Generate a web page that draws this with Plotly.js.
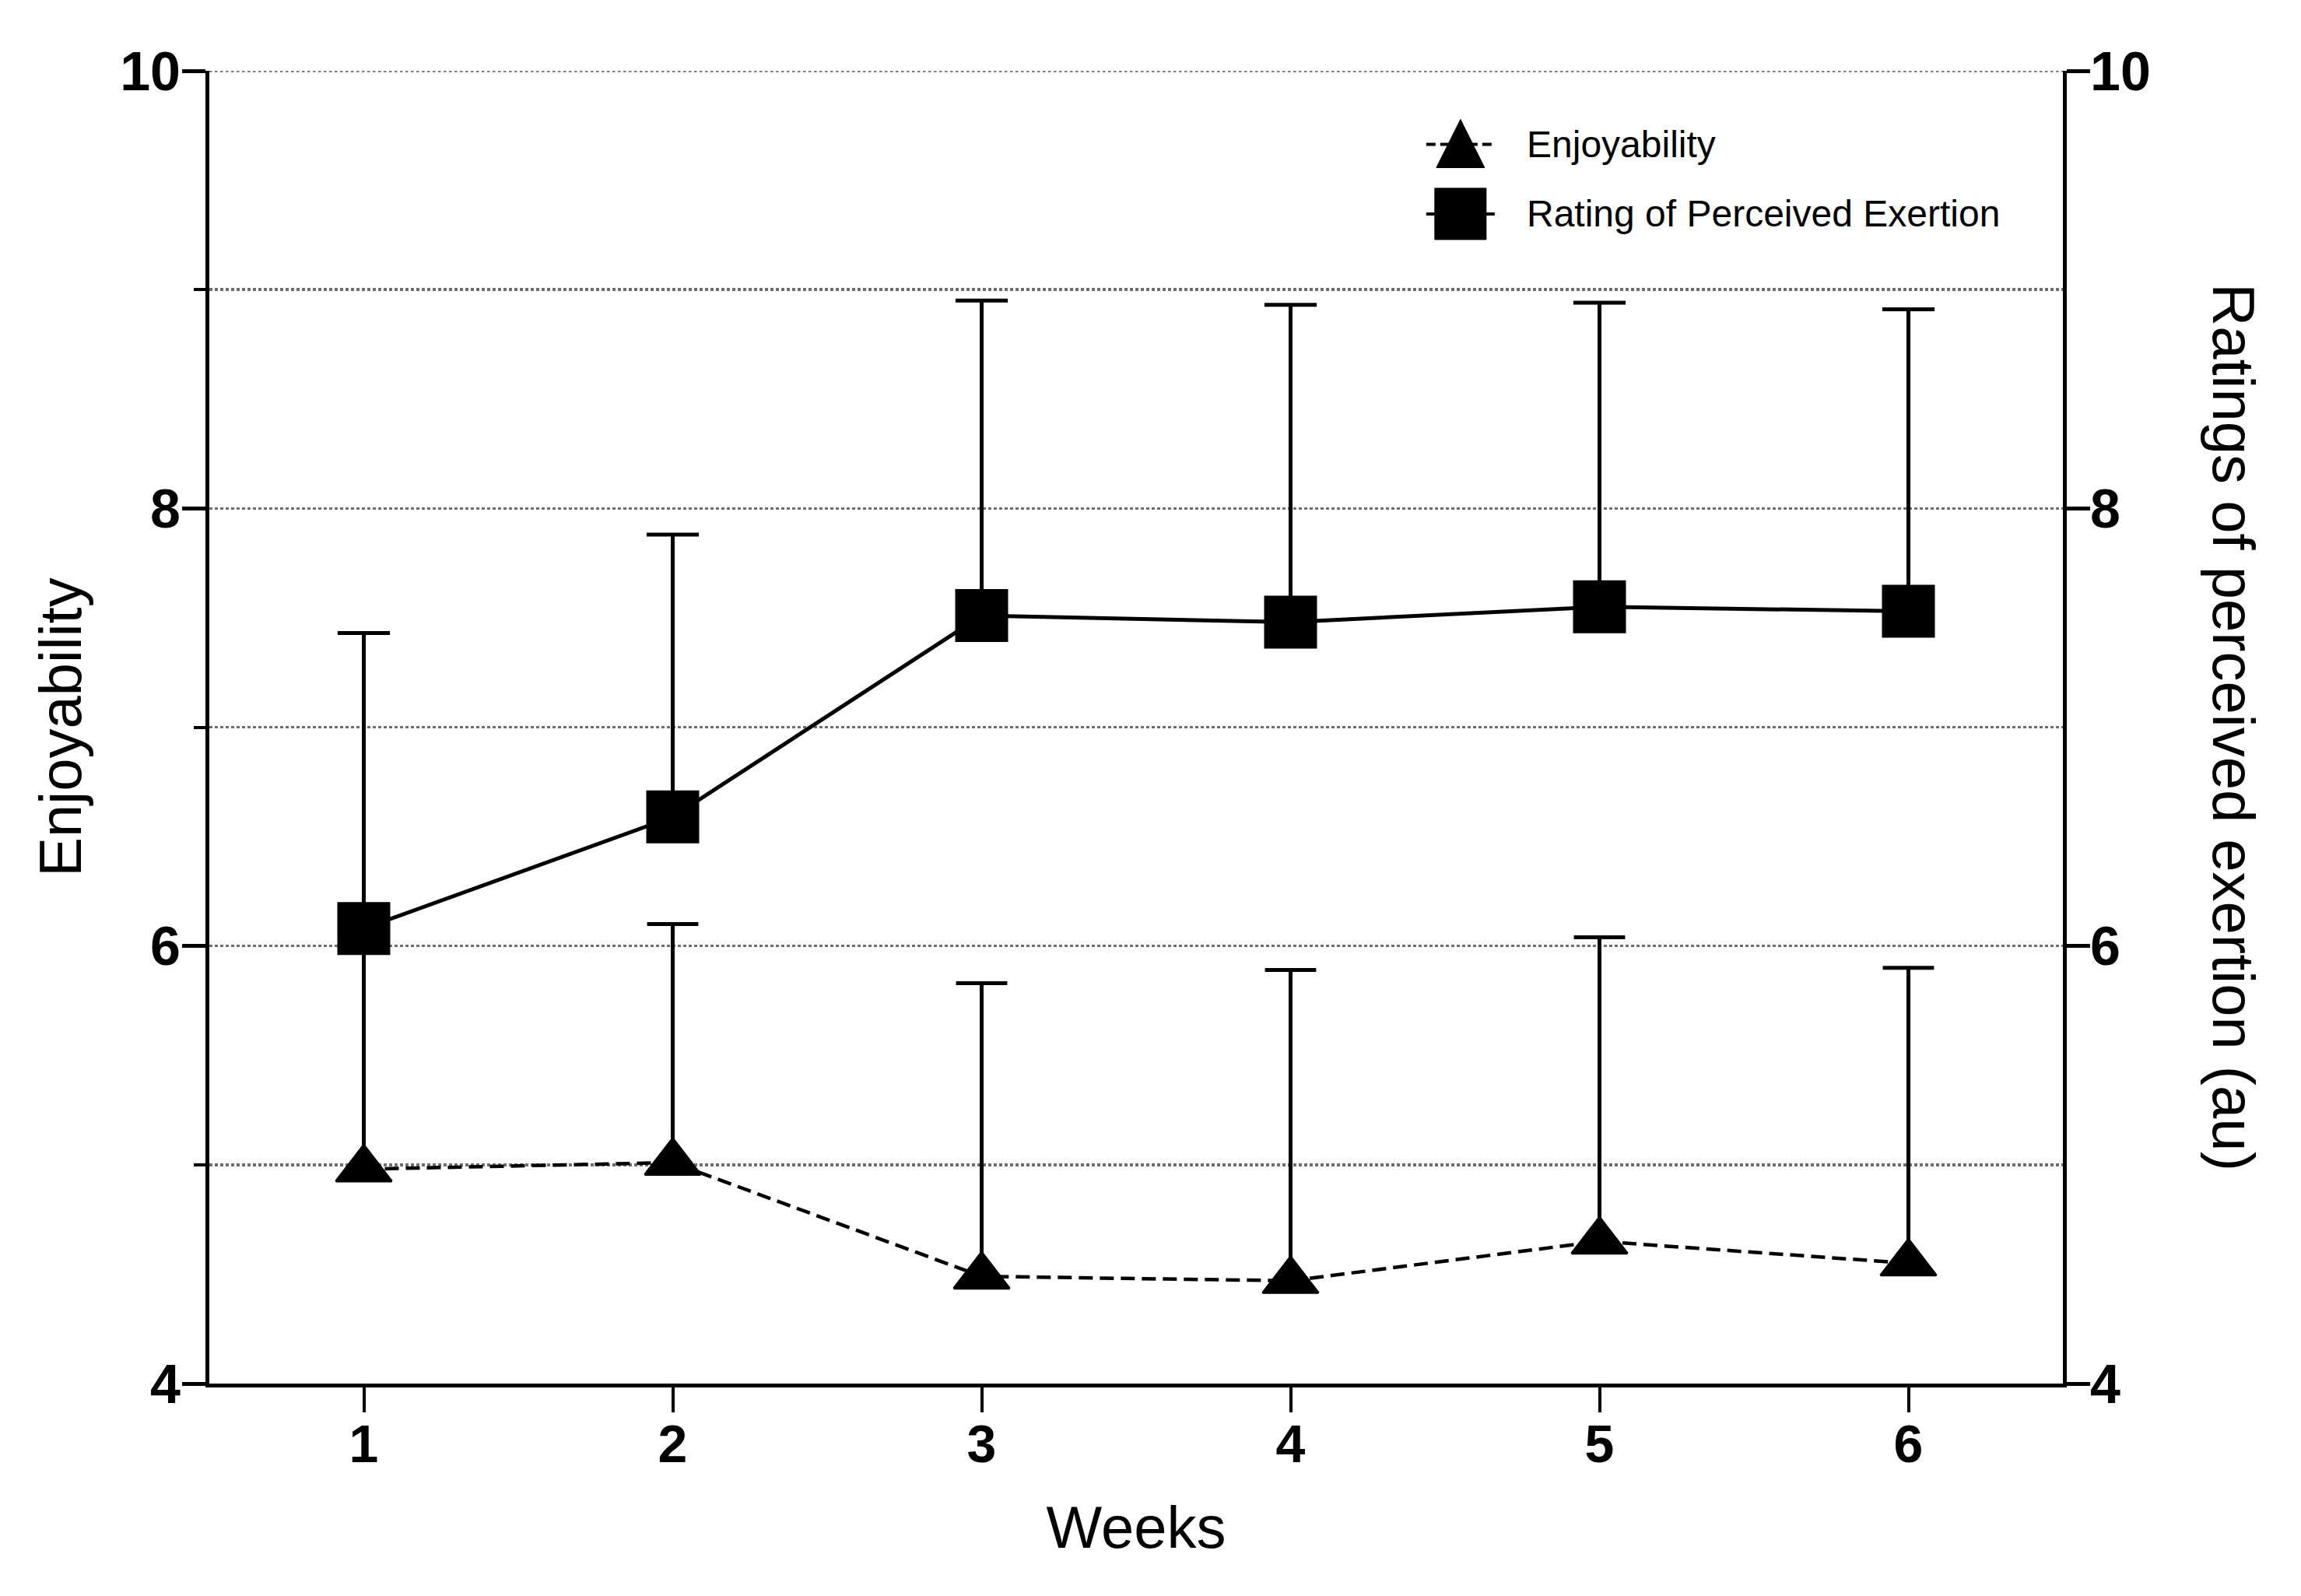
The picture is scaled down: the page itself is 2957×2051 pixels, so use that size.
<!DOCTYPE html>
<html>
<head>
<meta charset="utf-8">
<script src="https://cdn.plot.ly/plotly-3.0.1.min.js"></script>
<style>
  html, body { margin: 0; padding: 0; background: #ffffff; }
  #chart { width: 2957px; height: 2051px; }
</style>
</head>
<body>
<div id="chart"></div>
<script>
// ---- data ----
var weeks = [1, 2, 3, 4, 5, 6];
var weekLabels = ['1', '2', '3', '4', '5', '6'];
var enjoyMean = [4.98, 5.01, 4.49, 4.47, 4.65, 4.55];
var enjoySD   = [1.09, 1.09, 1.34, 1.42, 1.39, 1.35];
var rpeMean   = [6.08, 6.59, 7.51, 7.48, 7.55, 7.53];
var rpeSD     = [1.35, 1.29, 1.44, 1.45, 1.39, 1.38];
var seriesNames = ['Enjoyability', 'Rating of Perceived Exertion'];
var yTickVals = [4, 6, 8, 10];

var FONT = "'Liberation Sans', Arial, Helvetica, sans-serif";

function upper(m, s) { return m.map(function (v, i) { return v + s[i]; }); }

var traces = [
  {
    name: seriesNames[0], x: weeks, y: enjoyMean, yaxis: 'y',
    mode: 'lines+markers', type: 'scatter', showlegend: false,
    line: { color: '#000', width: 4.5, dash: '18px,9px' },
    marker: { symbol: 'triangle-up', size: 62, color: '#000', line: { color: '#000', width: 3 } },
    error_y: { type: 'data', symmetric: false, array: enjoySD, arrayminus: weeks.map(function(){return 0;}),
               color: '#000', thickness: 5, width: 0 },
    hoverinfo: 'skip'
  },
  {
    name: seriesNames[0] + ' SD', x: weeks, y: upper(enjoyMean, enjoySD), yaxis: 'y',
    mode: 'markers', type: 'scatter', showlegend: false,
    marker: { symbol: 'line-ew', size: 47, color: '#000', line: { color: '#000', width: 5 } },
    hoverinfo: 'skip'
  },
  {
    name: seriesNames[1], x: weeks, y: rpeMean, yaxis: 'y2',
    mode: 'lines+markers', type: 'scatter', showlegend: false,
    line: { color: '#000', width: 5 },
    marker: { symbol: 'square', size: 68, color: '#000' },
    error_y: { type: 'data', symmetric: false, array: rpeSD, arrayminus: weeks.map(function(){return 0;}),
               color: '#000', thickness: 5, width: 0 },
    hoverinfo: 'skip'
  },
  {
    name: seriesNames[1] + ' SD', x: weeks, y: upper(rpeMean, rpeSD), yaxis: 'y2',
    mode: 'markers', type: 'scatter', showlegend: false,
    marker: { symbol: 'line-ew', size: 48, color: '#000', line: { color: '#000', width: 5 } },
    hoverinfo: 'skip'
  }
];

var legX = 0.675, legTextX = 0.71, legY1 = 0.944, legY2 = 0.891;
var GRID = '#6e6e6e';

var layout = {
  width: 2957, height: 2051,
  paper_bgcolor: '#fff', plot_bgcolor: '#fff',
  margin: { l: 269, r: 306, t: 91, b: 273, pad: 0 },
  showlegend: false,
  font: { family: FONT, color: '#000', size: 60 },
  xaxis: {
    range: [0.5, 6.5], tickvals: weeks, ticktext: weekLabels,
    ticks: 'outside', ticklen: 32, tickwidth: 4, tickcolor: '#000',
    showline: true, linewidth: 5, linecolor: '#000', mirror: false,
    showgrid: false, zeroline: false, ticklabelstandoff: -18,
    tickfont: { family: FONT, size: 68, weight: 'bold', color: '#000' },
    title: { text: 'Weeks', font: { family: FONT, size: 76, color: '#000' }, standoff: 46 }
  },
  yaxis: {
    range: [4, 10], tickvals: yTickVals,
    ticks: 'outside', ticklen: 30, tickwidth: 5, tickcolor: '#000',
    showline: true, linewidth: 5, linecolor: '#000',
    showgrid: true, gridcolor: GRID, gridwidth: 3.5, griddash: 'dot',
    zeroline: false, ticklabelstandoff: -12,
    tickfont: { family: FONT, size: 70, weight: 'bold', color: '#000' },
    minor: { dtick: 1, tick0: 4, ticks: 'outside', ticklen: 15, tickwidth: 4, tickcolor: '#000',
             showgrid: true, gridcolor: GRID, gridwidth: 3.5, griddash: 'dot' },
    title: { text: 'Enjoyability', font: { family: FONT, size: 76, color: '#000' }, standoff: 26 }
  },
  yaxis2: {
    range: [4, 10], tickvals: yTickVals, overlaying: 'y', side: 'right',
    ticks: 'outside', ticklen: 30, tickwidth: 5, tickcolor: '#000',
    showline: true, linewidth: 5, linecolor: '#000',
    showgrid: false, zeroline: false, ticklabelstandoff: -14,
    tickfont: { family: FONT, size: 70, weight: 'bold', color: '#000' }
  },
  annotations: [
    { text: 'Ratings of perceived exertion (au)', xref: 'paper', yref: 'paper', x: 1.092, y: 0.5,
      xanchor: 'center', yanchor: 'middle', textangle: 90, showarrow: false,
      font: { family: FONT, size: 76, color: '#000' } },
    { text: seriesNames[0], xref: 'paper', yref: 'paper', x: legTextX, y: legY1,
      xanchor: 'left', yanchor: 'middle', showarrow: false,
      font: { family: FONT, size: 48, color: '#000' } },
    { text: seriesNames[1], xref: 'paper', yref: 'paper', x: legTextX, y: legY2,
      xanchor: 'left', yanchor: 'middle', showarrow: false,
      font: { family: FONT, size: 48, color: '#000' } }
  ],
  shapes: [
    { type: 'line', xref: 'paper', yref: 'y', x0: 0, x1: 1, y0: 10, y1: 10, layer: 'below',
      line: { color: GRID, width: 3.5, dash: 'dot' } },
    { type: 'line', xref: 'paper', yref: 'paper', xsizemode: 'pixel', xanchor: legX,
      x0: -44, x1: 44, y0: legY1, y1: legY1, line: { color: '#000', width: 4, dash: '12px,6px' } },
    { type: 'path', xref: 'paper', yref: 'paper', xsizemode: 'pixel', ysizemode: 'pixel',
      xanchor: legX, yanchor: legY1, path: 'M-31,-30L31,-30L0,32Z',
      fillcolor: '#000', line: { color: '#000', width: 1 } },
    { type: 'line', xref: 'paper', yref: 'paper', xsizemode: 'pixel', xanchor: legX,
      x0: -44, x1: 44, y0: legY2, y1: legY2, line: { color: '#000', width: 4 } },
    { type: 'rect', xref: 'paper', yref: 'paper', xsizemode: 'pixel', ysizemode: 'pixel',
      xanchor: legX, yanchor: legY2, x0: -33, x1: 33, y0: -33, y1: 33,
      fillcolor: '#000', line: { color: '#000', width: 1 } }
  ]
};

Plotly.newPlot('chart', traces, layout, { staticPlot: true, displayModeBar: false });
</script>
</body>
</html>
